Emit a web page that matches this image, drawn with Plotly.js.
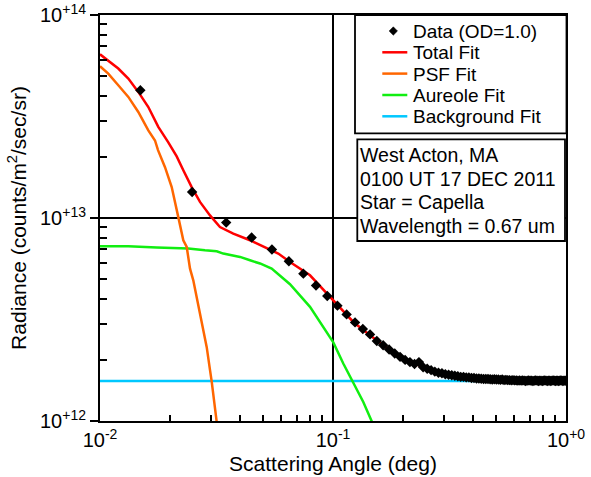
<!DOCTYPE html>
<html>
<head>
<meta charset="utf-8">
<script src="https://cdn.plot.ly/plotly-3.0.1.min.js"></script>
<style>html,body{margin:0;padding:0;background:#fff}#chart{width:591px;height:477px}</style>
</head>
<body>
<div id="chart"></div>
<script>
// ---- data ----
const dataX = [0.0149,0.02485,0.0348,0.04475,0.0547,0.06465,0.0746,0.08455,0.0945,0.10445,
0.1144,0.12435,0.1343,0.14425,0.1542,0.16415,0.1741,0.18405,0.194,0.20395,
0.2139,0.22385,0.2338,0.24375,0.2537,0.26365,0.2736,0.28355,0.2935,0.30345,
0.3134,0.32335,0.3333,0.34325,0.3532,0.36315,0.3731,0.38305,0.393,0.40295,
0.4129,0.42285,0.4328,0.44275,0.4527,0.46265,0.4726,0.48255,0.4925,0.50245,
0.5124,0.52235,0.5323,0.54225,0.5522,0.56215,0.5721,0.58205,0.592,0.60195,
0.6119,0.62185,0.6318,0.64175,0.6517,0.66165,0.6716,0.68155,0.6915,0.70145,
0.7114,0.72135,0.7313,0.74125,0.7512,0.76115,0.7711,0.78105,0.791,0.80095,
0.8109,0.82085,0.8308,0.84075,0.8507,0.86065,0.8706,0.88055,0.8905,0.90045,
0.9104,0.92035,0.9303,0.94025,0.9502,0.96015,0.9701,0.98005,0.99,0.99995];
const dataY = [4.26e13,1.343e13,9.49e12,8.01e12,6.99e12,6.12e12,5.32e12,4.65e12,4.13e12,3.70e12,
3.35e12,3.06e12,2.84e12,2.67e12,2.48e12,2.36e12,2.25e12,2.15e12,2.07e12,2.00e12,
1.95e12,1.91e12,1.95e12,1.84e12,1.81e12,1.78e12,1.75e12,1.73e12,1.72e12,1.70e12,
1.69e12,1.68e12,1.67e12,1.66e12,1.65e12,1.65e12,1.64e12,1.64e12,1.63e12,1.63e12,
1.62e12,1.62e12,1.615e12,1.61e12,1.61e12,1.61e12,1.605e12,1.60e12,1.605e12,1.60e12,
1.60e12,1.595e12,1.60e12,1.59e12,1.595e12,1.59e12,1.59e12,1.585e12,1.59e12,1.585e12,
1.585e12,1.58e12,1.585e12,1.58e12,1.585e12,1.58e12,1.575e12,1.58e12,1.585e12,1.58e12,
1.58e12,1.575e12,1.58e12,1.585e12,1.58e12,1.575e12,1.58e12,1.58e12,1.575e12,1.58e12,
1.585e12,1.58e12,1.575e12,1.58e12,1.58e12,1.575e12,1.58e12,1.585e12,1.58e12,1.575e12,
1.58e12,1.58e12,1.575e12,1.58e12,1.585e12,1.58e12,1.575e12,1.58e12,1.58e12,1.578e12];

const totalX = [0.01,0.01085,0.01198,0.01323,0.0146,0.01612,0.01779,0.01964,0.02134,0.02278,
0.02474,0.02686,0.02966,0.03273,0.03733,0.04403,0.05193,0.05823,0.06537,0.07967,
0.1003,0.1222,0.1441,0.1756,0.214,0.2878,0.4275,0.6348,1.0];
const totalY = [6.40e13,5.98e13,5.45e13,4.86e13,4.18e13,3.52e13,2.81e13,2.36e13,2.01e13,1.72e13,
1.42e13,1.20e13,1.03e13,9.03e12,8.38e12,7.77e12,7.07e12,6.68e12,6.07e12,5.22e12,
3.93e12,3.075e12,2.644e12,2.23e12,1.952e12,1.724e12,1.62e12,1.59e12,1.578e12];

const psfX = [0.01,0.01085,0.01198,0.01323,0.0146,0.01612,0.01722,0.01774,0.01901,0.02031,
0.02168,0.02278,0.02356,0.02434,0.02514,0.02686,0.02871,0.02966,0.03017,0.03169];
const psfY = [5.59e13,5.14e13,4.51e13,3.95e13,3.33e13,2.70e13,2.41e13,2.16e13,1.78e13,1.42e13,
1.01e13,7.77e12,7.20e12,5.63e12,4.93e12,3.38e12,2.31e12,1.78e12,1.56e12,9.89e11];

const aureoleX = [0.01,0.01323,0.01751,0.02393,0.02822,0.03169,0.03382,0.0399,0.04403,0.04861,
0.05455,0.06537,0.07967,0.09087,0.1003,0.1107,0.1222,0.1349,0.1466,0.152];
const aureoleY = [7.26e12,7.26e12,7.15e12,7.07e12,6.93e12,6.86e12,6.68e12,6.43e12,6.19e12,5.97e12,
5.63e12,4.72e12,3.65e12,2.91e12,2.44e12,1.92e12,1.54e12,1.24e12,9.97e11,9.0e11];

const backgroundX = [0.01, 1.0];
const backgroundY = [1.574e12, 1.574e12];

const seriesNames = ['Data (OD=1.0)','Total Fit','PSF Fit','Aureole Fit','Background Fit'];
const seriesColors = ['#000000','#ff0000','#ff6600','#11ee11','#00c8ff'];
const infoLines = ['West Acton, MA','0100 UT 17 DEC 2011','Star = Capella','Wavelength = 0.67 um'];

const xTickVals = [0.01, 0.1, 1];
const xTickText = ['10<sup>-2</sup>','10<sup>-1</sup>','10<sup>+0</sup>'];
const xMinorVals = [0.02,0.03,0.04,0.05,0.06,0.07,0.08,0.09,0.2,0.3,0.4,0.5,0.6,0.7,0.8,0.9];
const yTickVals = [1e12, 1e13, 1e14];
const yTickText = ['10<sup>+12</sup>','10<sup>+13</sup>','10<sup>+14</sup>'];
const yMinorVals = [2e12,3e12,4e12,5e12,6e12,7e12,8e12,9e12,2e13,3e13,4e13,5e13,6e13,7e13,8e13,9e13];

// ---- layout helpers (pixel -> paper) ----
const L = 100, T = 15, W = 466, H = 406;
const px = v => (v - L) / W;
const py = v => (T + H - v) / H;
const FONT = 'Liberation Sans, Arial, sans-serif';

const lw = 2.5;
const traces = [
  {x: backgroundX, y: backgroundY, mode:'lines', line:{color:seriesColors[4], width:lw}, name:seriesNames[4]},
  {x: aureoleX, y: aureoleY, mode:'lines', line:{color:seriesColors[3], width:lw}, name:seriesNames[3]},
  {x: psfX, y: psfY, mode:'lines', line:{color:seriesColors[2], width:lw}, name:seriesNames[2]},
  {x: totalX, y: totalY, mode:'lines', line:{color:seriesColors[1], width:lw}, name:seriesNames[1]},
  {x: dataX, y: dataY, mode:'markers', marker:{symbol:'diamond', size:8, color:'#000'}, name:seriesNames[0]}
];

// manual legend + info box
const rowY = [31, 52.3, 73.6, 95, 116.3];
const shapes = [
  {type:'rect', xref:'paper', yref:'paper', x0:px(355), x1:px(566.5), y0:py(133.3), y1:py(15), line:{color:'#000', width:1.8}, fillcolor:'#fff', layer:'above'},
  {type:'rect', xref:'paper', yref:'paper', x0:px(357.3), x1:px(565), y0:py(241), y1:py(139.3), line:{color:'#000', width:1.8}, fillcolor:'#fff', layer:'above'}
];
const annotations = [];
// diamond marker in legend
const dcx = px(393.3), dcy = py(rowY[0]), dw = 4.2 / W, dh = 4.2 / H;
shapes.push({type:'path', xref:'paper', yref:'paper', layer:'above',
  path:`M ${dcx-dw} ${dcy} L ${dcx} ${dcy+dh} L ${dcx+dw} ${dcy} L ${dcx} ${dcy-dh} Z`,
  fillcolor:'#000', line:{color:'#000', width:0.5}});
for (let i = 1; i < 5; i++) {
  shapes.push({type:'line', xref:'paper', yref:'paper', layer:'above', x0:px(382.3), x1:px(407.3), y0:py(rowY[i]), y1:py(rowY[i]), line:{color:seriesColors[i], width:lw}});
}
for (let i = 0; i < 5; i++) {
  annotations.push({xref:'paper', yref:'paper', x:px(411), y:py(rowY[i]+0.5), xanchor:'left', yanchor:'middle', showarrow:false, text:seriesNames[i], font:{family:FONT, size:19, color:'#000'}});
}
const infoRowY = [154.7, 178.3, 201.9, 225.5];
for (let i = 0; i < 4; i++) {
  annotations.push({xref:'paper', yref:'paper', x:px(357.5), y:py(infoRowY[i]+0.5), xanchor:'left', yanchor:'middle', showarrow:false, text:infoLines[i], font:{family:FONT, size:19.5, color:'#000'}});
}

const layout = {
  width:591, height:477,
  margin:{l:L, r:591-L-W, t:T, b:477-T-H, pad:0},
  paper_bgcolor:'#fff', plot_bgcolor:'#fff',
  showlegend:false,
  font:{family:FONT, color:'#000'},
  xaxis:{
    type:'log', range:[-2, 0], autorange:false,
    tickmode:'array', tickvals:xTickVals, ticktext:xTickText,
    ticks:'inside', ticklen:6, tickwidth:2, tickcolor:'#000',
    tickfont:{family:FONT, size:20, color:'#000'},
    showgrid:true, gridcolor:'#000', gridwidth:1.5,
    showline:true, linecolor:'#000', linewidth:2, mirror:true,
    zeroline:false,
    minor:{tickmode:'array', tickvals:xMinorVals, ticks:'inside', ticklen:6, tickwidth:2, tickcolor:'#000', showgrid:false},
    title:{text:'Scattering Angle (deg)', font:{family:FONT, size:21, color:'#000'}, standoff:6}
  },
  yaxis:{
    type:'log', range:[12, 14], autorange:false,
    tickmode:'array', tickvals:yTickVals, ticktext:yTickText,
    ticks:'outside', ticklen:8, tickwidth:2, tickcolor:'#000',
    tickfont:{family:FONT, size:20, color:'#000'},
    showgrid:true, gridcolor:'#000', gridwidth:1.5,
    showline:true, linecolor:'#000', linewidth:2, mirror:true,
    zeroline:false,
    minor:{tickmode:'array', tickvals:yMinorVals, ticks:'inside', ticklen:7, tickwidth:2, tickcolor:'#000', showgrid:false},
    title:{text:'Radiance (counts/m<sup>2</sup>/sec/sr)', font:{family:FONT, size:21, color:'#000'}, standoff:8}
  },
  shapes:shapes,
  annotations:annotations
};

Plotly.newPlot('chart', traces, layout, {staticPlot:true, displayModeBar:false});
</script>
</body>
</html>
